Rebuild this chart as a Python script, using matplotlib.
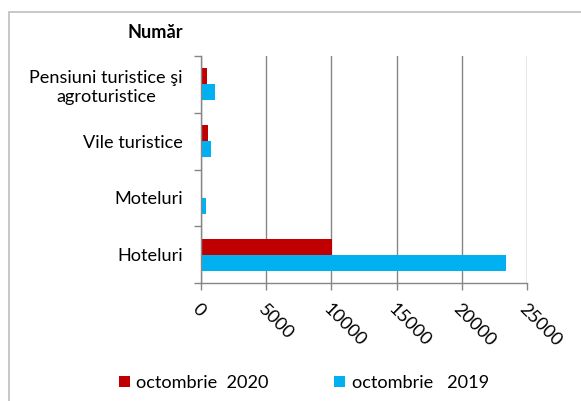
import matplotlib
matplotlib.use("Agg")
import matplotlib.pyplot as plt
from matplotlib.patches import Rectangle
import numpy as np

plt.rcParams['font.family'] = ['Lato', 'DejaVu Sans']

categories = ["Hoteluri", "Moteluri", "Vile turistice", "Pensiuni turistice şi\nagroturistice"]
oct_2020 = [10050, 20, 540, 460]
oct_2019 = [23400, 380, 770, 1070]
series_labels = ["octombrie  2020", "octombrie   2019"]
xticks = [0, 5000, 10000, 15000, 20000, 25000]

FS = 13.1
W, H = 581, 401
fig = plt.figure(figsize=(W/100, H/100), dpi=100)
ax = fig.add_axes([201/W, 1-283/H, (527-201)/W, (283-56)/H])

y = np.arange(len(categories))
h = 0.28
b1 = ax.barh(y + h/2, oct_2020, height=h, color='#C00000', label=series_labels[0])
b2 = ax.barh(y - h/2, oct_2019, height=h, color='#00B0F0', label=series_labels[1])

ax.set_xlim(0, 25000)
ax.set_ylim(-0.5, len(categories)-0.5)
ax.set_xticks(xticks)
ax.set_xticklabels([str(v) for v in xticks], rotation=-45, ha='left', va='top',
                   rotation_mode='anchor', fontsize=FS)
ax.set_yticks(y)
ax.set_yticklabels(categories, fontsize=FS, linespacing=1.25, ha='right', multialignment='center')
ax.tick_params(axis='y', length=0, pad=13)
ax.set_yticks(np.arange(-0.5, len(categories), 1), minor=True)
ax.tick_params(axis='y', which='minor', length=5, color='#868686', width=1, direction='out')
ax.tick_params(axis='x', length=5, color='#868686', width=1, direction='out', pad=8)

ax.grid(axis='x', color='#868686', linewidth=1)
ax.set_axisbelow(True)
for s in ['top', 'right']:
    ax.spines[s].set_visible(False)
for s in ['left', 'bottom']:
    ax.spines[s].set_color('#868686')
    ax.spines[s].set_linewidth(1)

fig.text(183/W, 1-33/H, "Număr", ha='right', va='center', fontsize=FS, fontweight='bold')

leg = fig.legend(handles=[b1, b2], labels=series_labels, loc='center', bbox_to_anchor=(0.523, 1-383/H),
                 ncol=2, frameon=False, fontsize=FS, handlelength=0.6, handleheight=0.6,
                 handletextpad=0.35, columnspacing=3.6)

fig.patches.append(Rectangle((9/W, -0.1), 1.2, 1-12/H+0.1, transform=fig.transFigure,
                             fill=False, edgecolor='#BFBFBF', linewidth=1.2))

fig.savefig("out.png", dpi=100)
